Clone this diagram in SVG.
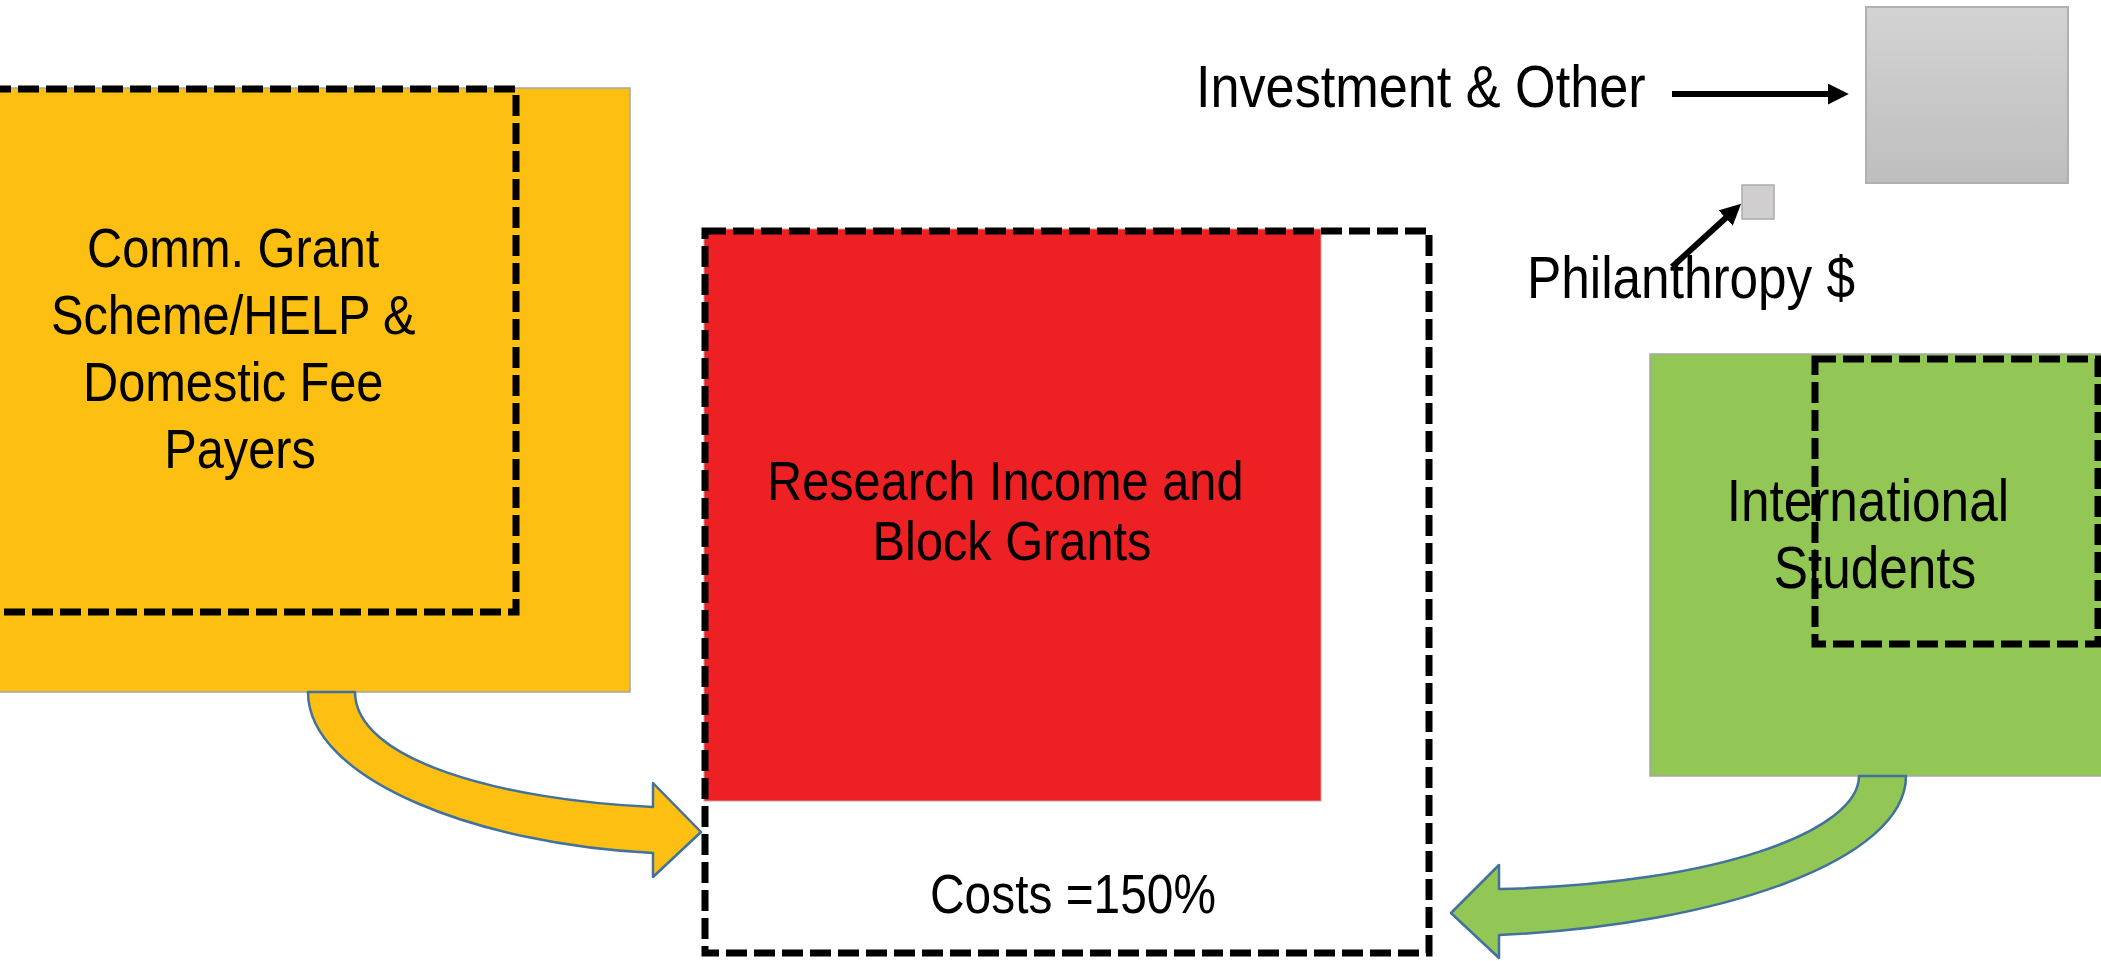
<svg xmlns="http://www.w3.org/2000/svg" width="2101" height="961" viewBox="0 0 2101 961">
  <style>
    .lbl { font-family: "Liberation Sans", Arial, sans-serif; fill: #000; }
    .dash { fill: none; stroke: #000; stroke-width: 7; stroke-dasharray: 21 7; }
    .box { stroke: #A6A6A6; stroke-width: 1.5; }
    .block { stroke: #41719C; stroke-width: 2.5; stroke-linejoin: round; }
    .line { stroke: #000; stroke-width: 6; fill: none; }
  </style>
  <defs>
    <linearGradient id="grey" x1="0" y1="0" x2="0" y2="1">
      <stop offset="0" stop-color="#D3D3D3"/>
      <stop offset="1" stop-color="#BEBEBE"/>
    </linearGradient>
    <marker id="head" viewBox="0 0 3.5 3.5" refX="0.2" refY="1.75" markerWidth="3.5" markerHeight="3.5" markerUnits="strokeWidth" orient="auto">
      <path d="M0,0 L3.5,1.75 L0,3.5 Z" fill="#000"/>
    </marker>
  </defs>
  <rect width="2101" height="961" fill="#fff"/>

  <g id="domestic">
    <rect class="box" x="-2" y="88" width="632" height="604" fill="#FCBF12"/>
    <text class="lbl" font-size="56" text-anchor="middle" transform="translate(240 0) scale(0.87 1)">
      <tspan x="0" y="267">Comm. Grant</tspan>
      <tspan x="0" y="334">Scheme/HELP &amp;</tspan>
      <tspan x="0" y="401">Domestic Fee</tspan>
      <tspan x="0" y="468">Payers</tspan>
    </text>
    <rect class="dash" x="-10" y="89" width="526" height="523"/>
  </g>

  <g id="research">
    <rect x="704" y="229" width="617" height="572" fill="#ED2024" stroke="#C8A0A0" stroke-width="1"/>
    <text class="lbl" font-size="56" text-anchor="middle" transform="translate(1012 0) scale(0.87 1)">
      <tspan x="0" y="500">Research Income and</tspan>
      <tspan x="0" y="560">Block Grants</tspan>
    </text>
  </g>

  <g id="costs">
    <rect class="dash" x="705" y="231" width="724" height="722"/>
    <text class="lbl" font-size="55" text-anchor="middle" transform="translate(1073 0) scale(0.87 1)" x="0" y="913">Costs =150%</text>
  </g>

  <g id="international">
    <rect class="box" x="1650" y="354" width="460" height="422" fill="#92C755"/>
    <text class="lbl" font-size="59" text-anchor="middle" transform="translate(1875 0) scale(0.87 1)">
      <tspan x="0" y="521">International</tspan>
      <tspan x="0" y="588">Students</tspan>
    </text>
    <rect class="dash" x="1815" y="359" width="283" height="285"/>
  </g>

  <g id="investment">
    <rect x="1866" y="7" width="202" height="176" fill="url(#grey)" stroke="#B0B0B0" stroke-width="2"/>
    <text class="lbl" font-size="60" transform="translate(1196 107) scale(0.87 1)" x="0" y="0">Investment &amp; Other</text>
  </g>

  <g id="philanthropy">
    <rect x="1742" y="185" width="32" height="34" fill="#D0CECE" stroke="#ABABAB" stroke-width="1.5"/>
    <text class="lbl" font-size="59" transform="translate(1527 298) scale(0.87 1)" x="0" y="0">Philanthropy $</text>
  </g>

  <g id="connectors">
    <path class="block" fill="#FCBF12" d="M308,692 L355,692 C355,760 500,800 653,807 L653,783 L701,832 L653,877 L653,853 C480,845 308,780 308,692 Z"/>
    <path class="block" fill="#92C755" d="M1906,776 L1859,776 C1859,830 1720,884 1499,889 L1499,865 L1451,913 L1499,958 L1499,935 C1720,925 1906,860 1906,776 Z"/>
    <line class="line" x1="1672" y1="94" x2="1829" y2="94" marker-end="url(#head)"/>
    <line class="line" x1="1672" y1="267" x2="1726.5" y2="217.2" marker-end="url(#head)"/>
  </g>
</svg>
